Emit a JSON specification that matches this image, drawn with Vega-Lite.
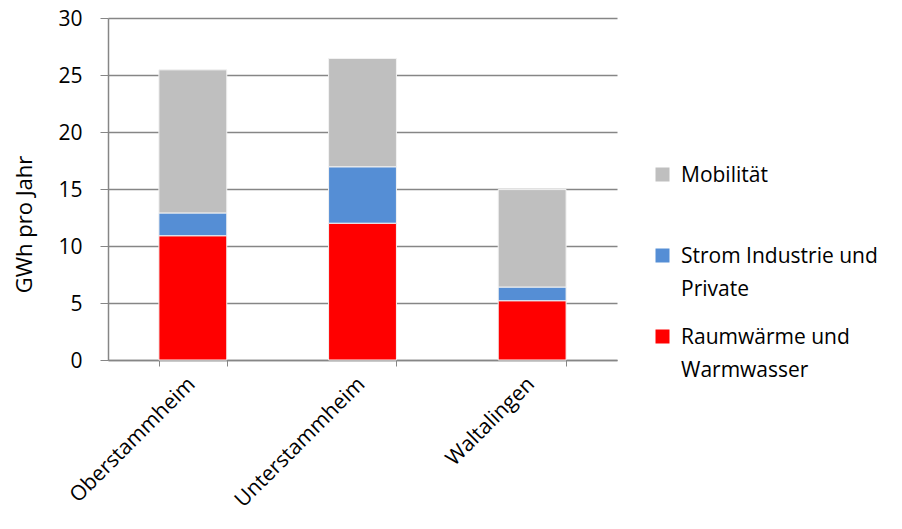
{
  "$schema": "https://vega.github.io/schema/vega-lite/v6.json",
  "width": 509,
  "height": 342,
  "autosize": "none",
  "padding": {"left": 108, "top": 18, "right": 285, "bottom": 169},
  "background": "white",
  "data": {
    "values": [
      {"Gemeinde": "Oberstammheim", "Kategorie": "Raumwärme und Warmwasser", "Stapel": 1, "GWh": 10.9},
      {"Gemeinde": "Oberstammheim", "Kategorie": "Strom Industrie und Private", "Stapel": 2, "GWh": 2.0},
      {"Gemeinde": "Oberstammheim", "Kategorie": "Mobilität", "Stapel": 3, "GWh": 12.55},
      {"Gemeinde": "Unterstammheim", "Kategorie": "Raumwärme und Warmwasser", "Stapel": 1, "GWh": 12.0},
      {"Gemeinde": "Unterstammheim", "Kategorie": "Strom Industrie und Private", "Stapel": 2, "GWh": 4.95},
      {"Gemeinde": "Unterstammheim", "Kategorie": "Mobilität", "Stapel": 3, "GWh": 9.5},
      {"Gemeinde": "Waltalingen", "Kategorie": "Raumwärme und Warmwasser", "Stapel": 1, "GWh": 5.2},
      {"Gemeinde": "Waltalingen", "Kategorie": "Strom Industrie und Private", "Stapel": 2, "GWh": 1.2},
      {"Gemeinde": "Waltalingen", "Kategorie": "Mobilität", "Stapel": 3, "GWh": 8.55}
    ]
  },
  "mark": {"type": "bar", "stroke": "#f2f2f2", "strokeWidth": 1},
  "encoding": {
    "x": {
      "field": "Gemeinde",
      "type": "nominal",
      "sort": null,
      "scale": {"paddingInner": 0.6, "paddingOuter": 0.3},
      "axis": {
        "title": null,
        "labelAngle": -45,
        "labelAlign": "right",
        "labelBaseline": "top",
        "labelFontSize": 21,
        "labelColor": "#000000",
        "labelPadding": 14,
        "labelOffset": -2,
        "tickBand": "extent",
        "tickSize": 6,
        "tickColor": "#868686",
        "domainColor": "#868686",
        "domainWidth": 1.5,
        "grid": false
      }
    },
    "y": {
      "field": "GWh",
      "type": "quantitative",
      "stack": "zero",
      "scale": {"domain": [0, 30], "nice": false},
      "axis": {
        "title": "GWh pro Jahr",
        "titleFontSize": 22,
        "titleFontWeight": "normal",
        "titleColor": "#000000",
        "titleAngle": -90,
        "titleX": -84,
        "titleY": 206,
        "titleAlign": "center",
        "titleBaseline": "middle",
        "values": [0, 5, 10, 15, 20, 25, 30],
        "labelFontSize": 21,
        "labelColor": "#000000",
        "labelBaseline": "top",
        "labelPadding": 18,
        "tickSize": 8,
        "tickColor": "#868686",
        "domainColor": "#868686",
        "domainWidth": 1.5,
        "gridColor": "#868686",
        "gridWidth": 1.5,
        "grid": true
      }
    },
    "color": {
      "field": "Kategorie",
      "type": "nominal",
      "scale": {
        "domain": ["Mobilität", "Strom Industrie und Private", "Raumwärme und Warmwasser"],
        "range": ["#bfbfbf", "#558ed5", "#ff0000"]
      },
      "legend": {
        "title": null,
        "orient": "none",
        "legendX": 544,
        "legendY": 146,
        "symbolType": "square",
        "symbolSize": 196,
        "symbolStrokeWidth": 0,
        "symbolOpacity": 1,
        "labelFontSize": 21,
        "labelColor": "#000000",
        "labelOffset": 8,
        "labelLimit": 300,
        "labelBaseline": "top",
        "rowPadding": 26,
        "labelExpr": "datum.label == 'Strom Industrie und Private' ? ['Strom Industrie und', 'Private'] : datum.label == 'Raumwärme und Warmwasser' ? ['Raumwärme und', 'Warmwasser'] : ['Mobilität', '']"
      }
    },
    "order": {"field": "Stapel", "type": "quantitative"}
  },
  "config": {
    "view": {"stroke": null},
    "font": "Open Sans",
    "style": {"guide-label": {"lineHeight": 33, "dy": -10}}
  }
}
